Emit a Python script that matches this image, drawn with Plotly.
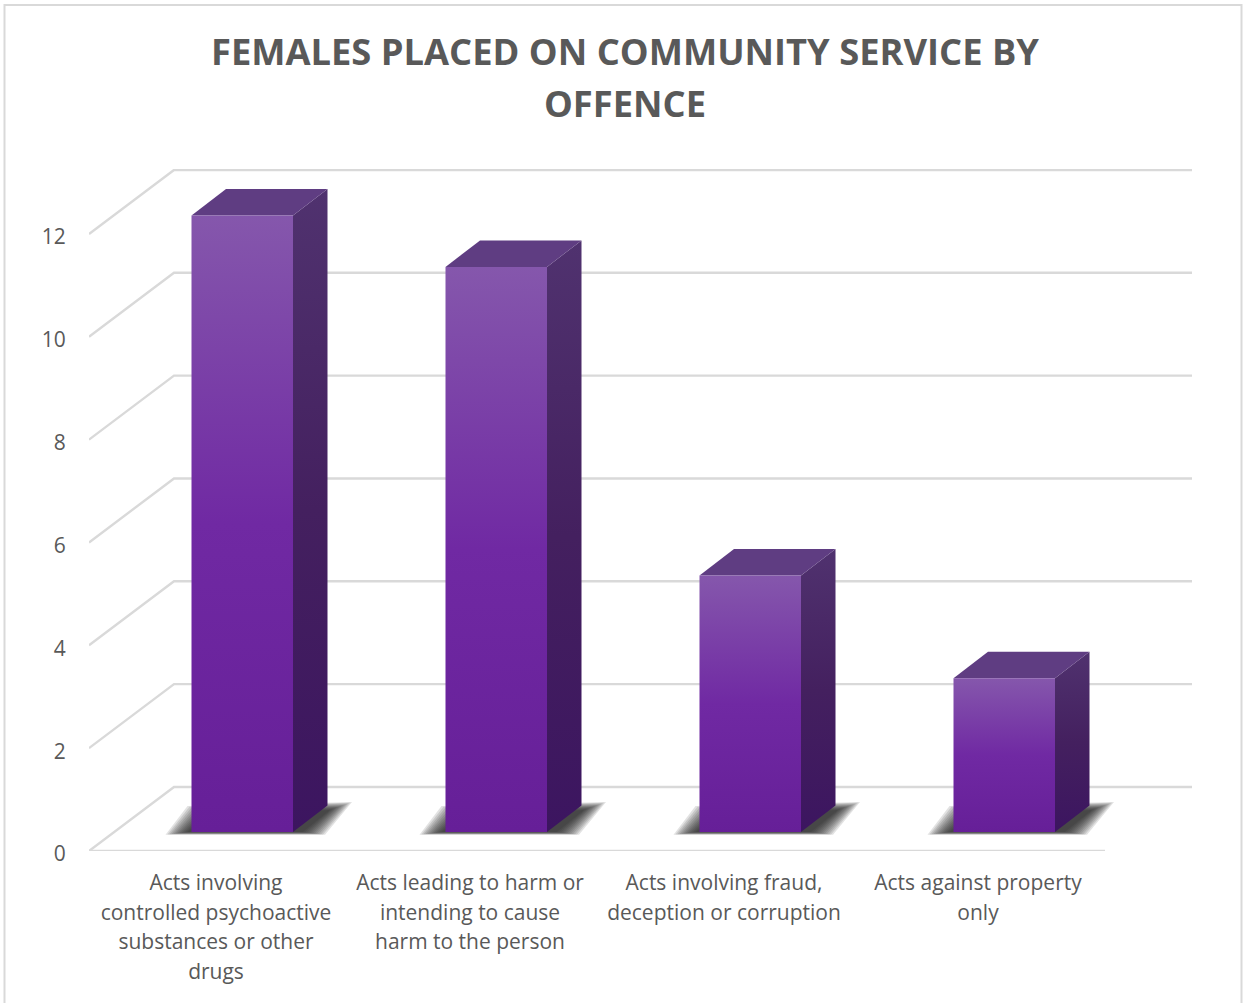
import plotly.graph_objects as go

TITLE_LINES = ["FEMALES PLACED ON COMMUNITY SERVICE BY", "OFFENCE"]
categories = [
    ["Acts involving", "controlled psychoactive", "substances or other", "drugs"],
    ["Acts leading to harm or", "intending to cause", "harm to the person"],
    ["Acts involving fraud,", "deception or corruption"],
    ["Acts against property", "only"],
]
values = [12, 11, 5, 3]
y_ticks = [0, 2, 4, 6, 8, 10, 12]

W, H = 1243, 1003
L, R, T, B = 89, 1192, 169, 851
CAT_PX = 254.0
UNIT_PX = 51.42
XMAX = (R - L) / CAT_PX
YMAX = (B - T) / UNIT_PX
# oblique depth in axis units
WALL_DX, WALL_DY = 85 / CAT_PX, 64 / UNIT_PX
BAR_DX, BAR_DY = 34.5 / CAT_PX, 26.5 / UNIT_PX
BAR_W = 101.5 / CAT_PX
BAR_X0 = 102.5 / CAT_PX
BAR_Y0 = 19 / UNIT_PX

GRID = "#D9D9D9"
TXT = "#595959"
FONT = "Open Sans"


def line(xs, ys, color=GRID, width=2.4):
    return go.Scatter(x=xs, y=ys, mode="lines", line=dict(color=color, width=width),
                      hoverinfo="skip", showlegend=False, cliponaxis=False)


def poly(xs, ys, color=None, grad=None):
    kw = dict(fillcolor=color) if color else dict(
        fillgradient=dict(type="vertical", colorscale=grad))
    return go.Scatter(x=xs + xs[:1], y=ys + ys[:1], mode="lines", fill="toself",
                      line=dict(color="rgba(0,0,0,0)", width=0),
                      hoverinfo="skip", showlegend=False, cliponaxis=False, **kw)


fig = go.Figure()

# back wall gridlines with their oblique floor/side parts
for t in y_ticks:
    fig.add_trace(line([0, WALL_DX, XMAX], [t, t + WALL_DY, t + WALL_DY]))
fig.add_trace(line([0, len(values)], [0, 0]))

# floor shadows and bars
FRONT = [[0, "#661F98"], [0.5, "#7029A3"], [1, "#8557AC"]]
SIDE = [[0, "#3C1560"], [0.5, "#44205F"], [1, "#50326F"]]
for i, v in enumerate(values):
    x0 = i + BAR_X0
    x1 = x0 + BAR_W
    y0 = BAR_Y0
    y1 = y0 + v * (617 / 12 / UNIT_PX) - 0.01
    # soft shadow built from stacked translucent layers, widest first
    for spread in range(22, -2, -2):
        up, down = spread * 0.36 / UNIT_PX, spread * 0.13 / UNIT_PX
        fig.add_trace(poly(
            [x0 - (4 + spread) / CAT_PX, x0 + (18 - spread) / CAT_PX,
             x1 + (37 + spread) / CAT_PX, x1 + (10 + spread) / CAT_PX],
            [y0 - down, y0 + 18 / UNIT_PX + up, y0 + 22 / UNIT_PX + up, y0 - down],
            color="rgba(30,30,30,0.13)"))
    fig.add_trace(poly([x1, x1 + BAR_DX, x1 + BAR_DX, x1],
                       [y0, y0 + BAR_DY, y1 + BAR_DY, y1], grad=SIDE))
    fig.add_trace(poly([x0, x1, x1 + BAR_DX, x0 + BAR_DX],
                       [y1, y1, y1 + BAR_DY, y1 + BAR_DY], color="#5F3D82"))
    fig.add_trace(poly([x0, x1, x1, x0], [y0, y0, y1, y1], grad=FRONT))


def small(text, px):
    return f'<span style="font-size:{px}px">{text}</span>'


LABEL_PX = 21
fig.update_xaxes(
    range=[0, XMAX], showgrid=False, zeroline=False, showline=False,
    tickmode="array", tickvals=[i + 0.5 for i in range(len(categories))],
    ticktext=["<br>".join(small(s, LABEL_PX) for s in c) for c in categories],
    ticks="outside", ticklen=11, tickcolor="rgba(0,0,0,0)", tickangle=0,
    tickfont=dict(family=FONT, size=22.7, color=TXT), automargin=False,
)
fig.update_yaxes(
    range=[0, YMAX], showgrid=False, zeroline=False, showline=False,
    tickmode="array", tickvals=y_ticks, ticktext=[str(t) for t in y_ticks],
    ticks="outside", ticklen=18, tickcolor="rgba(0,0,0,0)", ticklabelshift=3,
    tickfont=dict(family=FONT, size=LABEL_PX, color=TXT), automargin=False,
)
fig.update_layout(
    width=W, height=H, autosize=False,
    margin=dict(l=L, r=W - R, t=T, b=H - B, pad=0),
    paper_bgcolor="white", plot_bgcolor="white", showlegend=False,
    title=dict(
        text="<br>".join(small(s, 36.3) for s in TITLE_LINES),
        x=625 / W, xanchor="center", y=1 - 65 / H, yanchor="middle",
        font=dict(family=FONT, size=40, color=TXT, weight="bold"),
    ),
    shapes=[dict(type="rect", xref="paper", yref="paper",
                 x0=-84.5 / (R - L), x1=(1241.5 - L) / (R - L),
                 y0=(B - 1010) / (B - T), y1=(B - 5) / (B - T),
                 line=dict(color="#D9D9D9", width=2), fillcolor="rgba(0,0,0,0)", layer="below")],
)

fig.write_html("out.html", config={"displayModeBar": False},
               post_script="document.body.style.margin='0';document.body.style.overflow='hidden';")
